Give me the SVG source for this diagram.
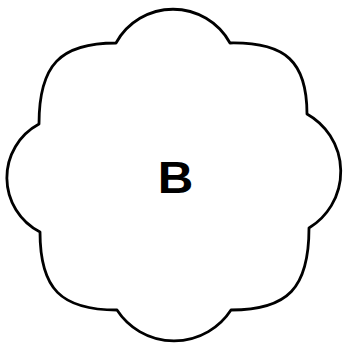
<svg xmlns="http://www.w3.org/2000/svg" width="344" height="344" viewBox="0 0 344 344">
<style>
.cloud{fill:#fff;stroke:#000;stroke-width:2.8;stroke-linejoin:round}
.lbl{font-family:"Liberation Sans",Arial,sans-serif;font-weight:bold;font-size:44px;fill:#000}
</style>
<rect width="344" height="344" fill="#fff"/>
<g id="nodeB">
<path class="cloud" d="M116,43 A65,65 0 0 1 230,43 C286,42 307,62 307,114 A66,66 0 0 1 309,228 C309,288 288,310 231,310 A68,68 0 0 1 117,310 C61,310 40,289 40,232 A61,61 0 0 1 39,124 C39,65 60,43 116,43 Z"/>
<text class="lbl" transform="translate(175.5,193) scale(1.12,1)" text-anchor="middle">B</text>
</g>
<g id="connectors"></g>
</svg>
